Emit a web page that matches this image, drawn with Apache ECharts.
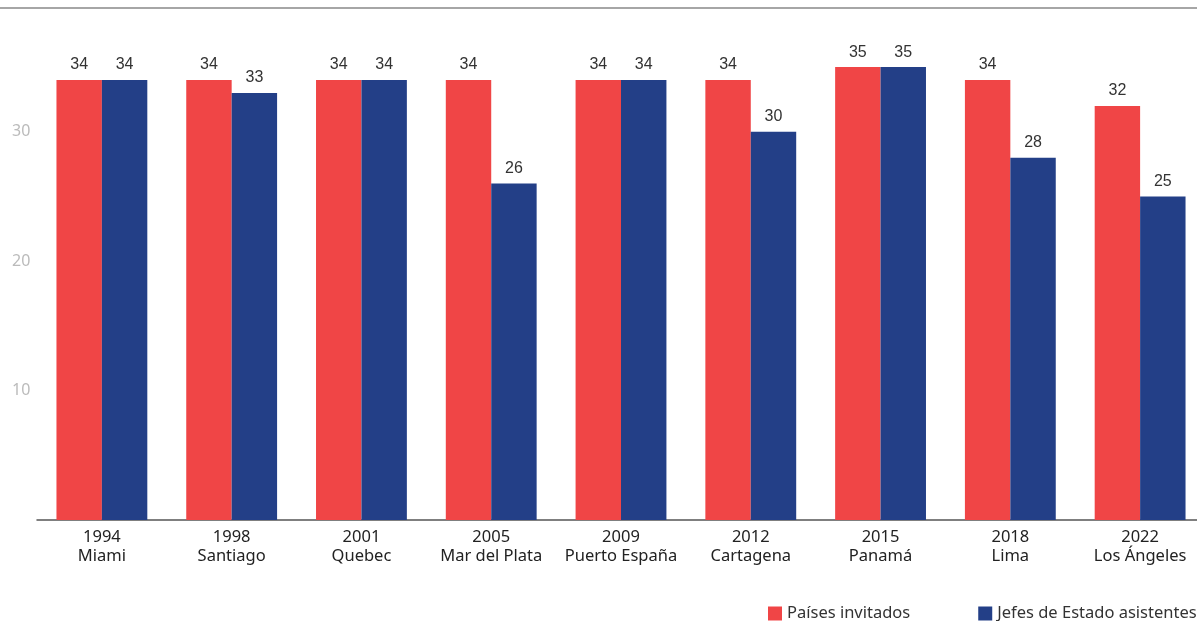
<!DOCTYPE html>
<html>
<head>
<meta charset="utf-8">
<script src="https://cdn.jsdelivr.net/npm/echarts@6/dist/echarts.min.js"></script>
<style>
  html, body { margin: 0; padding: 0; background: #fff; }
  #chart { width: 1197px; height: 621px; }
</style>
</head>
<body>
<div id="chart"></div>
<script>
// Cumbres de las Américas: países invitados y jefes de Estado asistentes
const years = ['1994', '1998', '2001', '2005', '2009', '2012', '2015', '2018', '2022'];
const cities = ['Miami', 'Santiago', 'Quebec', 'Mar del Plata', 'Puerto España', 'Cartagena', 'Panamá', 'Lima', 'Los Ángeles'];
const invitedCountries = [34, 34, 34, 34, 34, 34, 35, 34, 32];
const headsOfState = [34, 33, 34, 26, 34, 30, 35, 28, 25];
const yTicks = [10, 20, 30];

const categories = years.map((y, i) => y + '\n' + cities[i]);

const chart = echarts.init(document.getElementById('chart'), null, { renderer: 'canvas' });

const barLabel = {
  show: true,
  position: 'top',
  distance: 7,
  color: '#333',
  fontSize: 16,
  fontFamily: 'Liberation Sans, Arial, sans-serif'
};

chart.setOption({
  animation: false,
  backgroundColor: '#fff',
  grid: { left: 37, width: 1168, top: 2.4, bottom: 101, outerBoundsMode: 'none', containLabel: false },
  graphic: [{
    type: 'line',
    shape: { x1: 0, y1: 8, x2: 1197, y2: 8 },
    style: { stroke: '#888', lineWidth: 1.5 }
  }],
  legend: {
    left: 768,
    top: 605,
    padding: 0,
    itemWidth: 14,
    itemHeight: 14,
    itemGap: 68,
    icon: 'rect',
    textStyle: { color: '#333', fontSize: 16.5, fontFamily: 'Noto Sans, sans-serif' },
    data: ['Países invitados', 'Jefes de Estado asistentes']
  },
  xAxis: {
    type: 'category',
    data: categories,
    axisLine: { show: true, lineStyle: { color: '#555', width: 1.5 } },
    axisTick: { show: false },
    axisLabel: {
      interval: 0,
      color: '#222',
      fontSize: 16.5,
      lineHeight: 19,
      margin: 8,
      fontFamily: 'Noto Sans, sans-serif'
    }
  },
  yAxis: {
    type: 'value',
    min: 0,
    max: 40,
    interval: 10,
    splitLine: { show: false },
    axisLine: { show: false },
    axisTick: { show: false },
    axisLabel: {
      color: '#bbb',
      fontSize: 16,
      fontFamily: 'Noto Sans, sans-serif',
      align: 'left',
      margin: 25,
      formatter: v => (yTicks.indexOf(v) >= 0 ? String(v) : '')
    }
  },
  series: [
    {
      name: 'Países invitados',
      type: 'bar',
      data: invitedCountries,
      barCategoryGap: '30%',
      barGap: '0%',
      itemStyle: { color: '#f04546' },
      label: barLabel
    },
    {
      name: 'Jefes de Estado asistentes',
      type: 'bar',
      data: headsOfState,
      barCategoryGap: '30%',
      barGap: '0%',
      itemStyle: { color: '#233f87' },
      label: barLabel
    }
  ]
});
</script>
</body>
</html>
